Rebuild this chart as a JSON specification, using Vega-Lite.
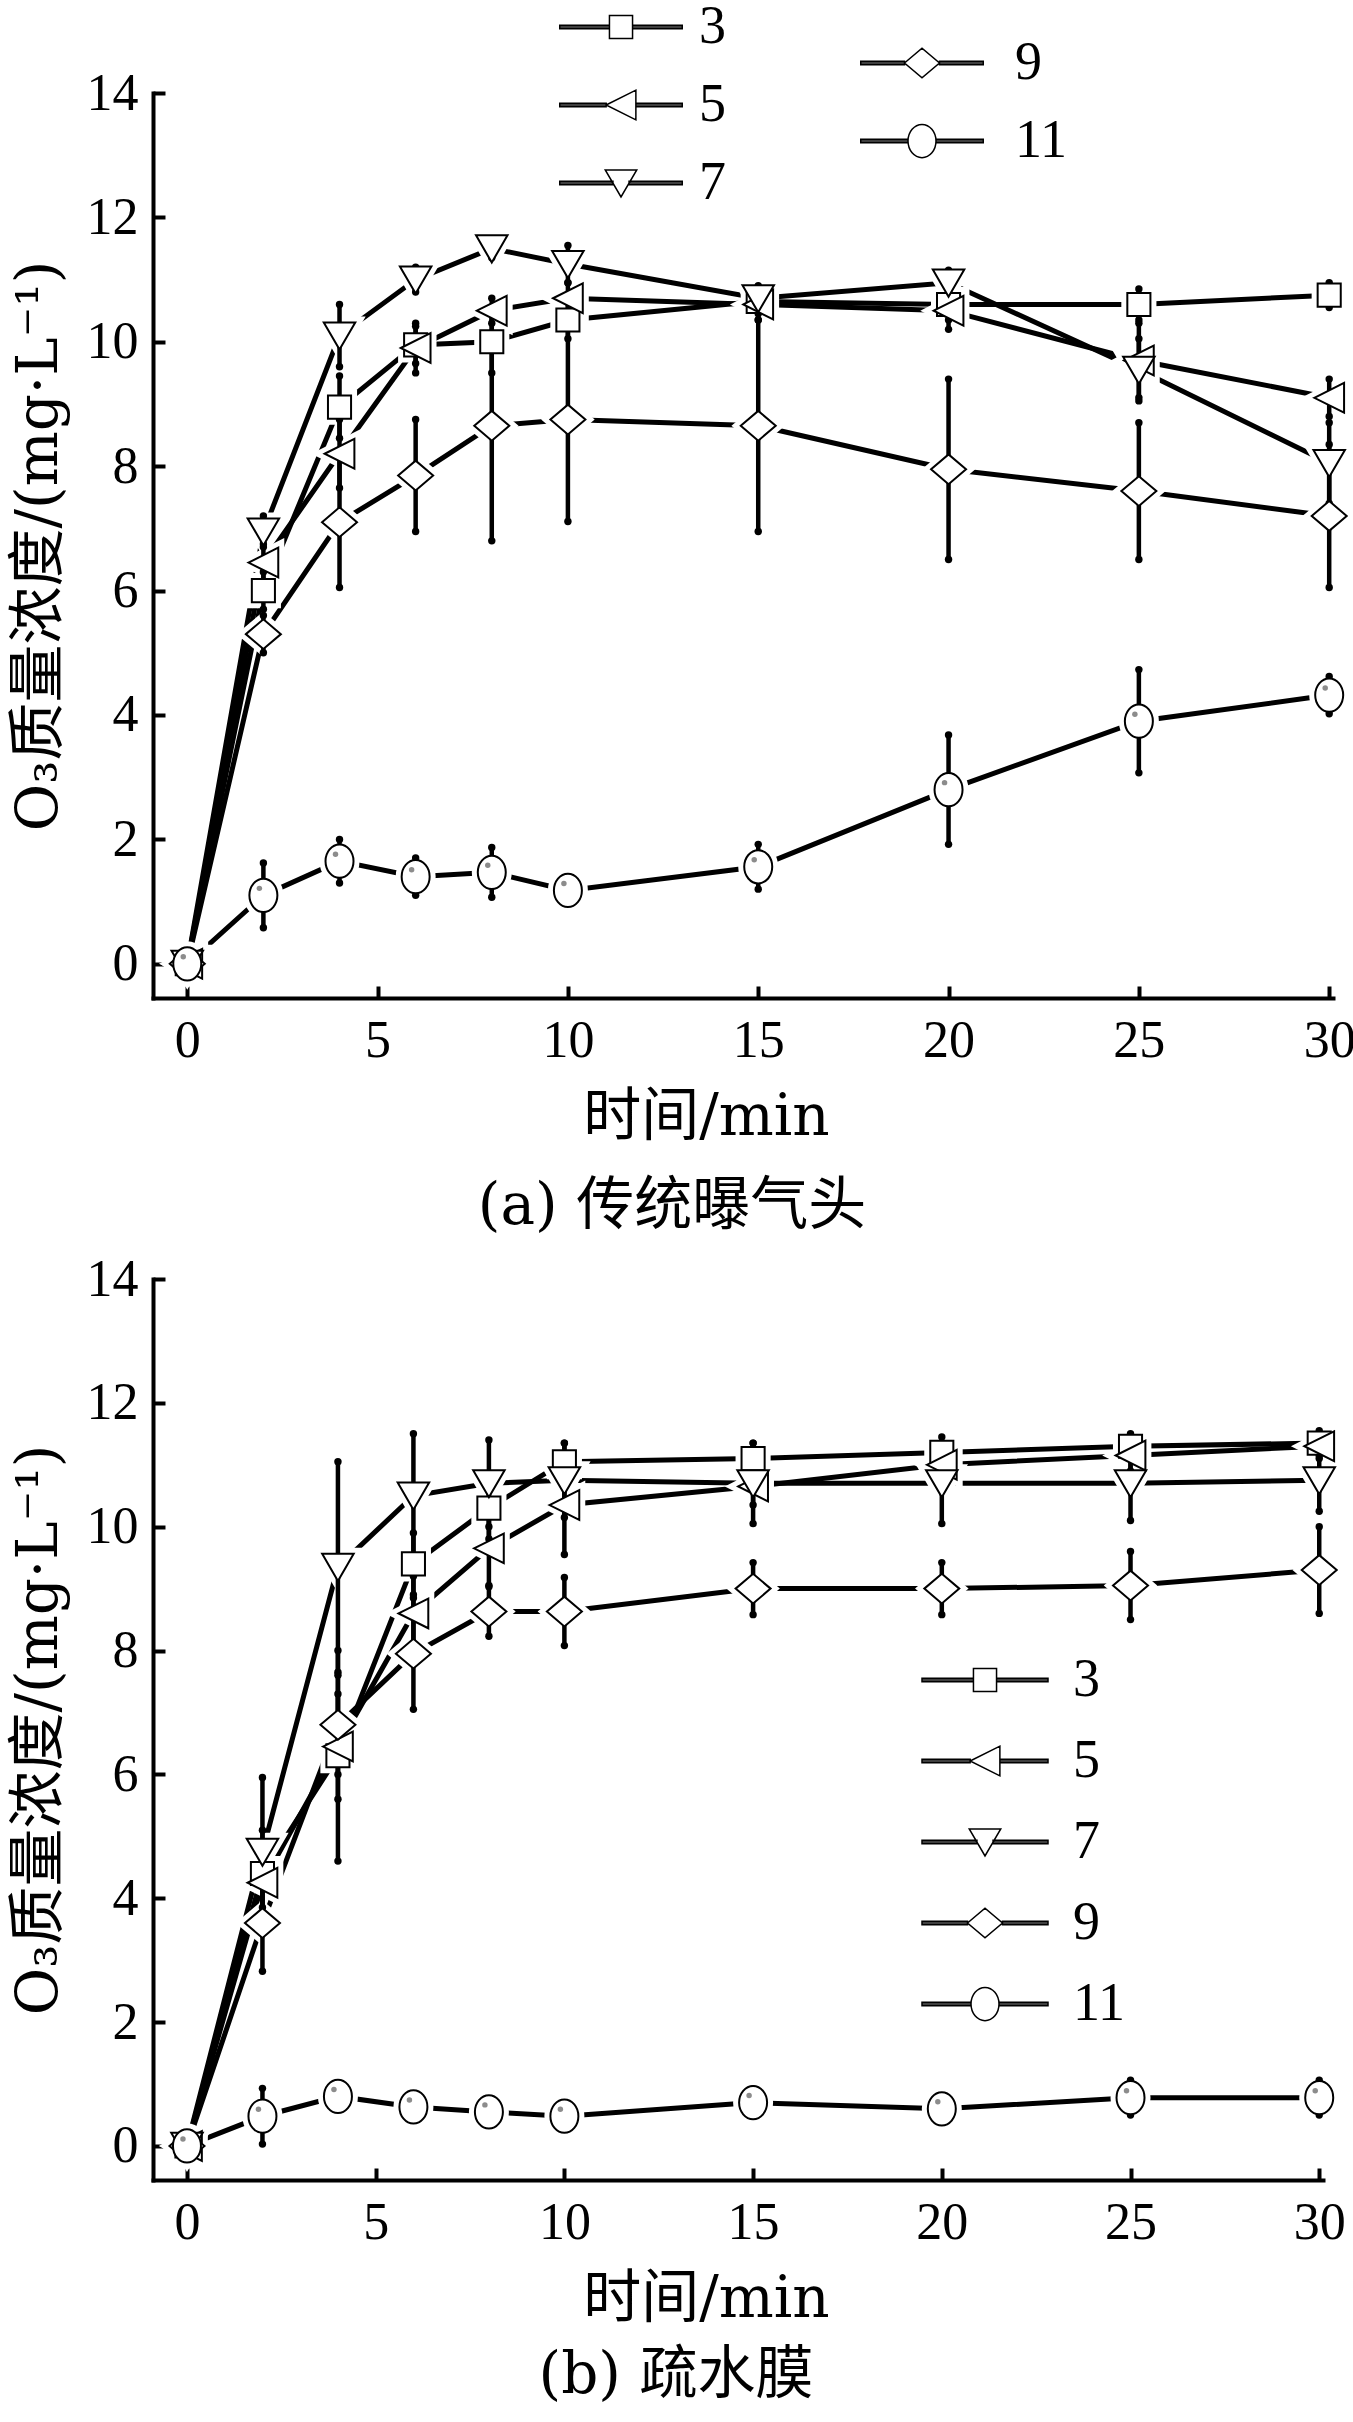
{
  "$schema": "https://vega.github.io/schema/vega-lite/v6.json",
  "background": "white",
  "padding": {"left": 10, "top": 0, "right": 0, "bottom": 0},
  "bounds": "flush",
  "spacing": 281,
  "config": {
    "font": "'Liberation Serif', 'Noto Sans CJK SC', serif",
    "view": {"stroke": null},
    "axis": {
      "grid": false,
      "domainColor": "black",
      "domainWidth": 4,
      "domainCap": "square",
      "tickColor": "black",
      "tickWidth": 4,
      "tickSize": -12,
      "labelFont": "'Liberation Serif', 'Noto Sans CJK SC', serif",
      "labelFontSize": 52,
      "labelColor": "black",
      "labelFlush": false,
      "titleFont": "'DejaVu Serif', 'Noto Sans CJK SC', serif",
      "titleFontSize": 58,
      "titleFontWeight": "normal",
      "titleColor": "black"
    },
    "axisX": {"labelPadding": 29, "titlePadding": 22},
    "axisY": {"labelPadding": 27, "titlePadding": 18},
    "legend": {
      "labelFont": "'Liberation Serif', 'Noto Sans CJK SC', serif",
      "labelFontSize": 54,
      "labelColor": "black",
      "padding": 0
    },
    "title": {
      "font": "'DejaVu Serif', 'Noto Sans CJK SC', serif",
      "fontSize": 58,
      "fontWeight": "normal",
      "color": "black"
    }
  },
  "datasets": {
    "a": [
      {"s": "3", "t": 0, "v": 0, "lo": 0, "hi": 0},
      {"s": "3", "t": 2, "v": 6.0, "lo": 5.7, "hi": 6.3},
      {"s": "3", "t": 4, "v": 8.95, "lo": 8.45, "hi": 9.45},
      {"s": "3", "t": 6, "v": 9.95, "lo": 9.65, "hi": 10.25},
      {"s": "3", "t": 8, "v": 10.0, "lo": 9.5, "hi": 10.5},
      {"s": "3", "t": 10, "v": 10.35, "lo": 10.05, "hi": 10.65},
      {"s": "3", "t": 15, "v": 10.65, "lo": 10.45, "hi": 10.85},
      {"s": "3", "t": 20, "v": 10.6, "lo": 10.35, "hi": 10.85},
      {"s": "3", "t": 25, "v": 10.6, "lo": 10.35, "hi": 10.85},
      {"s": "3", "t": 30, "v": 10.75, "lo": 10.55, "hi": 10.95},
      {"s": "5", "t": 0, "v": 0, "lo": 0, "hi": 0},
      {"s": "5", "t": 2, "v": 6.45, "lo": 6.15, "hi": 6.75},
      {"s": "5", "t": 4, "v": 8.2, "lo": 7.65, "hi": 8.75},
      {"s": "5", "t": 6, "v": 9.9, "lo": 9.5, "hi": 10.3},
      {"s": "5", "t": 8, "v": 10.5, "lo": 10.3, "hi": 10.7},
      {"s": "5", "t": 10, "v": 10.7, "lo": 10.45, "hi": 10.95},
      {"s": "5", "t": 15, "v": 10.6, "lo": 10.35, "hi": 10.85},
      {"s": "5", "t": 20, "v": 10.5, "lo": 10.2, "hi": 10.8},
      {"s": "5", "t": 25, "v": 9.7, "lo": 9.1, "hi": 10.3},
      {"s": "5", "t": 30, "v": 9.1, "lo": 8.8, "hi": 9.4},
      {"s": "7", "t": 0, "v": 0, "lo": 0, "hi": 0},
      {"s": "7", "t": 2, "v": 6.95, "lo": 6.7, "hi": 7.2},
      {"s": "7", "t": 4, "v": 10.1, "lo": 9.6, "hi": 10.6},
      {"s": "7", "t": 6, "v": 11.0, "lo": 10.8, "hi": 11.2},
      {"s": "7", "t": 8, "v": 11.5, "lo": 11.35, "hi": 11.65},
      {"s": "7", "t": 10, "v": 11.25, "lo": 10.95, "hi": 11.55},
      {"s": "7", "t": 15, "v": 10.7, "lo": 10.5, "hi": 10.9},
      {"s": "7", "t": 20, "v": 10.95, "lo": 10.75, "hi": 11.15},
      {"s": "7", "t": 25, "v": 9.55, "lo": 9.05, "hi": 10.05},
      {"s": "7", "t": 30, "v": 8.05, "lo": 7.4, "hi": 8.7},
      {"s": "9", "t": 0, "v": 0, "lo": 0, "hi": 0},
      {"s": "9", "t": 2, "v": 5.3, "lo": 5.0, "hi": 5.6},
      {"s": "9", "t": 4, "v": 7.1, "lo": 6.05, "hi": 8.15},
      {"s": "9", "t": 6, "v": 7.85, "lo": 6.95, "hi": 8.75},
      {"s": "9", "t": 8, "v": 8.65, "lo": 6.8, "hi": 10.5},
      {"s": "9", "t": 10, "v": 8.75, "lo": 7.11, "hi": 10.39},
      {"s": "9", "t": 15, "v": 8.65, "lo": 6.95, "hi": 10.35},
      {"s": "9", "t": 20, "v": 7.95, "lo": 6.5, "hi": 9.4},
      {"s": "9", "t": 25, "v": 7.6, "lo": 6.5, "hi": 8.7},
      {"s": "9", "t": 30, "v": 7.2, "lo": 6.05, "hi": 8.35},
      {"s": "11", "t": 0, "v": 0, "lo": 0, "hi": 0},
      {"s": "11", "t": 2, "v": 1.1, "lo": 0.58, "hi": 1.62},
      {"s": "11", "t": 4, "v": 1.65, "lo": 1.3, "hi": 2.0},
      {"s": "11", "t": 6, "v": 1.4, "lo": 1.1, "hi": 1.7},
      {"s": "11", "t": 8, "v": 1.47, "lo": 1.07, "hi": 1.87},
      {"s": "11", "t": 10, "v": 1.18, "lo": 0.98, "hi": 1.38},
      {"s": "11", "t": 15, "v": 1.56, "lo": 1.2, "hi": 1.92},
      {"s": "11", "t": 20, "v": 2.8, "lo": 1.92, "hi": 3.68},
      {"s": "11", "t": 25, "v": 3.9, "lo": 3.07, "hi": 4.73},
      {"s": "11", "t": 30, "v": 4.32, "lo": 4.02, "hi": 4.62}
    ],
    "b": [
      {"s": "3", "t": 0, "v": 0, "lo": 0, "hi": 0},
      {"s": "3", "t": 2, "v": 4.4, "lo": 3.7, "hi": 5.1},
      {"s": "3", "t": 4, "v": 6.3, "lo": 4.6, "hi": 8.0},
      {"s": "3", "t": 6, "v": 9.4, "lo": 8.9, "hi": 9.9},
      {"s": "3", "t": 8, "v": 10.3, "lo": 9.8, "hi": 10.8},
      {"s": "3", "t": 10, "v": 11.05, "lo": 10.75, "hi": 11.35},
      {"s": "3", "t": 15, "v": 11.1, "lo": 10.85, "hi": 11.35},
      {"s": "3", "t": 20, "v": 11.2, "lo": 10.95, "hi": 11.45},
      {"s": "3", "t": 25, "v": 11.3, "lo": 11.1, "hi": 11.5},
      {"s": "3", "t": 30, "v": 11.35, "lo": 11.15, "hi": 11.55},
      {"s": "5", "t": 0, "v": 0, "lo": 0, "hi": 0},
      {"s": "5", "t": 2, "v": 4.25, "lo": 3.85, "hi": 4.65},
      {"s": "5", "t": 4, "v": 6.45, "lo": 5.6, "hi": 7.3},
      {"s": "5", "t": 6, "v": 8.6, "lo": 8.0, "hi": 9.2},
      {"s": "5", "t": 8, "v": 9.65, "lo": 9.05, "hi": 10.25},
      {"s": "5", "t": 10, "v": 10.35, "lo": 9.55, "hi": 11.15},
      {"s": "5", "t": 15, "v": 10.65, "lo": 10.35, "hi": 10.95},
      {"s": "5", "t": 20, "v": 11.0, "lo": 10.7, "hi": 11.3},
      {"s": "5", "t": 25, "v": 11.15, "lo": 10.9, "hi": 11.4},
      {"s": "5", "t": 30, "v": 11.3, "lo": 11.1, "hi": 11.5},
      {"s": "7", "t": 0, "v": 0, "lo": 0, "hi": 0},
      {"s": "7", "t": 2, "v": 4.75, "lo": 3.55, "hi": 5.95},
      {"s": "7", "t": 4, "v": 9.35, "lo": 7.65, "hi": 11.05},
      {"s": "7", "t": 6, "v": 10.5, "lo": 9.5, "hi": 11.5},
      {"s": "7", "t": 8, "v": 10.7, "lo": 10.0, "hi": 11.4},
      {"s": "7", "t": 10, "v": 10.75, "lo": 10.15, "hi": 11.35},
      {"s": "7", "t": 15, "v": 10.7, "lo": 10.05, "hi": 11.35},
      {"s": "7", "t": 20, "v": 10.7, "lo": 10.05, "hi": 11.35},
      {"s": "7", "t": 25, "v": 10.7, "lo": 10.1, "hi": 11.3},
      {"s": "7", "t": 30, "v": 10.75, "lo": 10.25, "hi": 11.25},
      {"s": "9", "t": 0, "v": 0, "lo": 0, "hi": 0},
      {"s": "9", "t": 2, "v": 3.6, "lo": 2.82, "hi": 4.38},
      {"s": "9", "t": 4, "v": 6.8, "lo": 6.0, "hi": 7.6},
      {"s": "9", "t": 6, "v": 7.95, "lo": 7.05, "hi": 8.85},
      {"s": "9", "t": 8, "v": 8.63, "lo": 8.23, "hi": 9.03},
      {"s": "9", "t": 10, "v": 8.63, "lo": 8.08, "hi": 9.18},
      {"s": "9", "t": 15, "v": 9.0, "lo": 8.58, "hi": 9.42},
      {"s": "9", "t": 20, "v": 9.0, "lo": 8.58, "hi": 9.42},
      {"s": "9", "t": 25, "v": 9.05, "lo": 8.5, "hi": 9.6},
      {"s": "9", "t": 30, "v": 9.3, "lo": 8.6, "hi": 10.0},
      {"s": "11", "t": 0, "v": 0, "lo": 0, "hi": 0},
      {"s": "11", "t": 2, "v": 0.48, "lo": 0.03, "hi": 0.93},
      {"s": "11", "t": 4, "v": 0.8, "lo": 0.6, "hi": 1.0},
      {"s": "11", "t": 6, "v": 0.63, "lo": 0.45, "hi": 0.81},
      {"s": "11", "t": 8, "v": 0.55, "lo": 0.37, "hi": 0.73},
      {"s": "11", "t": 10, "v": 0.48, "lo": 0.28, "hi": 0.68},
      {"s": "11", "t": 15, "v": 0.7, "lo": 0.48, "hi": 0.92},
      {"s": "11", "t": 20, "v": 0.6, "lo": 0.4, "hi": 0.8},
      {"s": "11", "t": 25, "v": 0.78, "lo": 0.5, "hi": 1.06},
      {"s": "11", "t": 30, "v": 0.78, "lo": 0.5, "hi": 1.06}
    ]
  },
  "vconcat": [
    {
      "width": 1180,
      "height": 905,
      "data": {"name": "a"},
      "title": {"text": "(a) 传统曝气头", "orient": "bottom", "anchor": "middle", "offset": 32, "dx": -71},
      "encoding": {
        "x": {
          "field": "t",
          "type": "quantitative",
          "scale": {"domain": [-0.9, 30.1], "nice": false, "zero": false},
          "axis": {"values": [0, 5, 10, 15, 20, 25, 30], "title": "时间/min", "titleX": 553}
        },
        "y": {
          "field": "v",
          "type": "quantitative",
          "scale": {"domain": [-0.55, 14], "nice": false, "zero": false},
          "axis": {"values": [0, 2, 4, 6, 8, 10, 12, 14], "title": "O₃质量浓度/(mg·L⁻¹)"}
        }
      },
      "layer": [
        {
          "mark": {"type": "line", "color": "black", "strokeWidth": 5},
          "encoding": {"detail": {"field": "s"}}
        },
        {
          "mark": {"type": "point", "filled": true, "fill": "white", "stroke": "white", "strokeWidth": 12, "size": 1225, "opacity": 1},
          "encoding": {
            "shape": {
              "field": "s",
              "type": "nominal",
              "scale": {
                "domain": ["3", "5", "7", "9", "11"],
                "range": [
                  "M-0.66,-0.66H0.66V0.66H-0.66Z",
                  "M-0.85,0L0.85,-0.85L0.85,0.85Z",
                  "M-0.9,-0.75L0.9,-0.75L0,0.8Z",
                  "M-1,0L0,-0.85L1,0L0,0.85Z",
                  "M-0.8,0A0.8,0.95,0,1,0,0.8,0A0.8,0.95,0,1,0,-0.8,0Z"
                ]
              },
              "legend": null
            }
          }
        },
        {
          "transform": [{"filter": "datum.hi > datum.lo"}],
          "mark": {"type": "rule", "color": "black", "strokeWidth": 4.5},
          "encoding": {"y": {"field": "lo", "type": "quantitative"}, "y2": {"field": "hi"}}
        },
        {
          "transform": [{"filter": "datum.hi > datum.lo"}],
          "mark": {"type": "point", "shape": "circle", "filled": true, "color": "black", "size": 55, "opacity": 1},
          "encoding": {"y": {"field": "lo", "type": "quantitative"}}
        },
        {
          "transform": [{"filter": "datum.hi > datum.lo"}],
          "mark": {"type": "point", "shape": "circle", "filled": true, "color": "black", "size": 55, "opacity": 1},
          "encoding": {"y": {"field": "hi", "type": "quantitative"}}
        },
        {
          "mark": {"type": "point", "filled": true, "fill": "white", "stroke": "black", "strokeWidth": 2, "size": 1225, "opacity": 1},
          "encoding": {
            "shape": {
              "field": "s",
              "type": "nominal",
              "scale": {
                "domain": ["3", "5", "7", "9", "11"],
                "range": [
                  "M-0.66,-0.66H0.66V0.66H-0.66Z",
                  "M-0.85,0L0.85,-0.85L0.85,0.85Z",
                  "M-0.9,-0.75L0.9,-0.75L0,0.8Z",
                  "M-1,0L0,-0.85L1,0L0,0.85Z",
                  "M-0.8,0A0.8,0.95,0,1,0,0.8,0A0.8,0.95,0,1,0,-0.8,0Z"
                ]
              },
              "legend": null
            }
          }
        },
        {
          "transform": [{"filter": "datum.s === '11'"}],
          "mark": {"type": "point", "shape": "circle", "filled": true, "color": "#8c8c8c", "size": 30, "opacity": 1, "xOffset": -4, "yOffset": -7},
          "encoding": {}
        },
        {
          "transform": [{"filter": "false"}],
          "mark": {"type": "point", "filled": true, "fill": "white", "stroke": "black", "strokeWidth": 2, "opacity": 1},
          "encoding": {
            "shape": {
              "field": "s",
              "type": "nominal",
              "scale": {
                "domain": ["3", "5", "7"],
                "range": [
                  "M-3.5,-0.1H-0.66V0H-3.5Z M-3.5,0H-0.66V0.1H-3.5Z M0.66,-0.1H3.5V0H0.66Z M0.66,0H3.5V0.1H0.66Z M-0.66,-0.66H0.66V0.66H-0.66Z",
                  "M-3.5,-0.1H-0.85V0H-3.5Z M-3.5,0H-0.85V0.1H-3.5Z M0.85,-0.1H3.5V0H0.85Z M0.85,0H3.5V0.1H0.85Z M-0.85,0L0.85,-0.85L0.85,0.85Z",
                  "M-3.5,-0.1H-0.46V0H-3.5Z M-3.5,0H-0.46V0.1H-3.5Z M0.46,-0.1H3.5V0H0.46Z M0.46,0H3.5V0.1H0.46Z M-0.9,-0.75L0.9,-0.75L0,0.8Z"
                ]
              },
              "legend": {
                "orient": "none",
                "legendX": 441,
                "legendY": -93,
                "title": null,
                "symbolSize": 1225,
                "rowPadding": 24,
                "labelOffset": 51
              }
            }
          }
        },
        {
          "transform": [{"filter": "false"}],
          "mark": {"type": "point", "filled": true, "fill": "white", "stroke": "black", "strokeWidth": 2, "opacity": 1},
          "encoding": {
            "shape": {
              "field": "s",
              "type": "nominal",
              "scale": {
                "domain": ["9", "11"],
                "range": [
                  "M-3.5,-0.1H-1V0H-3.5Z M-3.5,0H-1V0.1H-3.5Z M1,-0.1H3.5V0H1Z M1,0H3.5V0.1H1Z M-1,0L0,-0.85L1,0L0,0.85Z",
                  "M-3.5,-0.1H-0.8V0H-3.5Z M-3.5,0H-0.8V0.1H-3.5Z M0.8,-0.1H3.5V0H0.8Z M0.8,0H3.5V0.1H0.8Z M-0.8,0A0.8,0.95,0,1,0,0.8,0A0.8,0.95,0,1,0,-0.8,0Z"
                ]
              },
              "legend": {
                "orient": "none",
                "legendX": 742,
                "legendY": -57,
                "title": null,
                "symbolSize": 1225,
                "rowPadding": 24,
                "labelOffset": 66
              }
            }
          }
        }
      ],
      "resolve": {"scale": {"shape": "independent"}, "legend": {"shape": "independent"}}
    },
    {
      "width": 1170,
      "height": 901,
      "data": {"name": "b"},
      "title": {"text": "(b) 疏水膜", "orient": "bottom", "anchor": "middle", "offset": 19, "dx": -62},
      "encoding": {
        "x": {
          "field": "t",
          "type": "quantitative",
          "scale": {"domain": [-0.9, 30.1], "nice": false, "zero": false},
          "axis": {"values": [0, 5, 10, 15, 20, 25, 30], "title": "时间/min", "titleX": 553}
        },
        "y": {
          "field": "v",
          "type": "quantitative",
          "scale": {"domain": [-0.55, 14], "nice": false, "zero": false},
          "axis": {"values": [0, 2, 4, 6, 8, 10, 12, 14], "title": "O₃质量浓度/(mg·L⁻¹)"}
        }
      },
      "layer": [
        {
          "mark": {"type": "line", "color": "black", "strokeWidth": 5},
          "encoding": {"detail": {"field": "s"}}
        },
        {
          "mark": {"type": "point", "filled": true, "fill": "white", "stroke": "white", "strokeWidth": 12, "size": 1225, "opacity": 1},
          "encoding": {
            "shape": {
              "field": "s",
              "type": "nominal",
              "scale": {
                "domain": ["3", "5", "7", "9", "11"],
                "range": [
                  "M-0.66,-0.66H0.66V0.66H-0.66Z",
                  "M-0.85,0L0.85,-0.85L0.85,0.85Z",
                  "M-0.9,-0.75L0.9,-0.75L0,0.8Z",
                  "M-1,0L0,-0.85L1,0L0,0.85Z",
                  "M-0.8,0A0.8,0.95,0,1,0,0.8,0A0.8,0.95,0,1,0,-0.8,0Z"
                ]
              },
              "legend": null
            }
          }
        },
        {
          "transform": [{"filter": "datum.hi > datum.lo"}],
          "mark": {"type": "rule", "color": "black", "strokeWidth": 4.5},
          "encoding": {"y": {"field": "lo", "type": "quantitative"}, "y2": {"field": "hi"}}
        },
        {
          "transform": [{"filter": "datum.hi > datum.lo"}],
          "mark": {"type": "point", "shape": "circle", "filled": true, "color": "black", "size": 55, "opacity": 1},
          "encoding": {"y": {"field": "lo", "type": "quantitative"}}
        },
        {
          "transform": [{"filter": "datum.hi > datum.lo"}],
          "mark": {"type": "point", "shape": "circle", "filled": true, "color": "black", "size": 55, "opacity": 1},
          "encoding": {"y": {"field": "hi", "type": "quantitative"}}
        },
        {
          "mark": {"type": "point", "filled": true, "fill": "white", "stroke": "black", "strokeWidth": 2, "size": 1225, "opacity": 1},
          "encoding": {
            "shape": {
              "field": "s",
              "type": "nominal",
              "scale": {
                "domain": ["3", "5", "7", "9", "11"],
                "range": [
                  "M-0.66,-0.66H0.66V0.66H-0.66Z",
                  "M-0.85,0L0.85,-0.85L0.85,0.85Z",
                  "M-0.9,-0.75L0.9,-0.75L0,0.8Z",
                  "M-1,0L0,-0.85L1,0L0,0.85Z",
                  "M-0.8,0A0.8,0.95,0,1,0,0.8,0A0.8,0.95,0,1,0,-0.8,0Z"
                ]
              },
              "legend": null
            }
          }
        },
        {
          "transform": [{"filter": "datum.s === '11'"}],
          "mark": {"type": "point", "shape": "circle", "filled": true, "color": "#8c8c8c", "size": 30, "opacity": 1, "xOffset": -4, "yOffset": -7},
          "encoding": {}
        },
        {
          "transform": [{"filter": "false"}],
          "mark": {"type": "point", "filled": true, "fill": "white", "stroke": "black", "strokeWidth": 2, "opacity": 1},
          "encoding": {
            "shape": {
              "field": "s",
              "type": "nominal",
              "scale": {
                "domain": ["3", "5", "7", "9", "11"],
                "range": [
                  "M-3.6,-0.1H-0.66V0H-3.6Z M-3.6,0H-0.66V0.1H-3.6Z M0.66,-0.1H3.6V0H0.66Z M0.66,0H3.6V0.1H0.66Z M-0.66,-0.66H0.66V0.66H-0.66Z",
                  "M-3.6,-0.1H-0.85V0H-3.6Z M-3.6,0H-0.85V0.1H-3.6Z M0.85,-0.1H3.6V0H0.85Z M0.85,0H3.6V0.1H0.85Z M-0.85,0L0.85,-0.85L0.85,0.85Z",
                  "M-3.6,-0.1H-0.46V0H-3.6Z M-3.6,0H-0.46V0.1H-3.6Z M0.46,-0.1H3.6V0H0.46Z M0.46,0H3.6V0.1H0.46Z M-0.9,-0.75L0.9,-0.75L0,0.8Z",
                  "M-3.6,-0.1H-1V0H-3.6Z M-3.6,0H-1V0.1H-3.6Z M1,-0.1H3.6V0H1Z M1,0H3.6V0.1H1Z M-1,0L0,-0.85L1,0L0,0.85Z",
                  "M-3.6,-0.1H-0.8V0H-3.6Z M-3.6,0H-0.8V0.1H-3.6Z M0.8,-0.1H3.6V0H0.8Z M0.8,0H3.6V0.1H0.8Z M-0.8,0A0.8,0.95,0,1,0,0.8,0A0.8,0.95,0,1,0,-0.8,0Z"
                ]
              },
              "legend": {
                "orient": "none",
                "legendX": 805,
                "legendY": 374,
                "title": null,
                "symbolSize": 1225,
                "rowPadding": 27,
                "labelOffset": 61
              }
            }
          }
        }
      ],
      "resolve": {"scale": {"shape": "independent"}, "legend": {"shape": "independent"}}
    }
  ]
}
